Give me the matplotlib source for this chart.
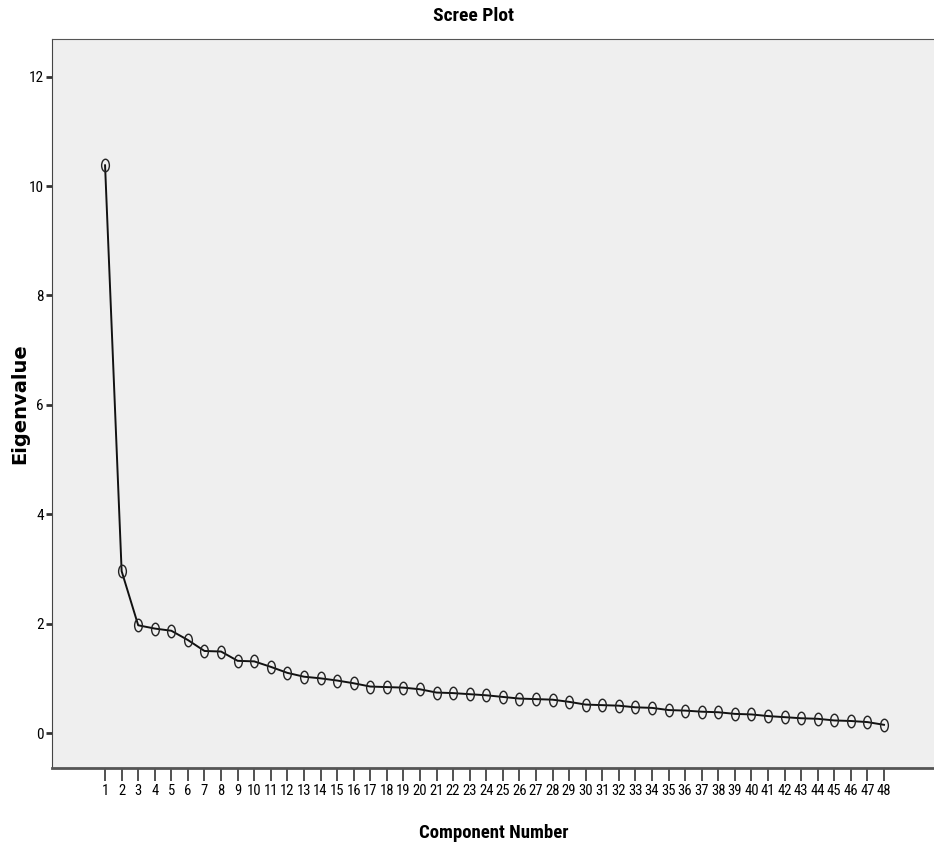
import matplotlib
matplotlib.use("Agg")
import matplotlib.pyplot as plt
from matplotlib.path import Path
from matplotlib.transforms import Affine2D

components = list(range(1, 49))
eigenvalues = [10.38, 2.96, 1.97, 1.91, 1.87, 1.70, 1.50, 1.49, 1.32, 1.31,
               1.21, 1.10, 1.03, 1.00, 0.96, 0.91, 0.85, 0.84, 0.83, 0.80,
               0.74, 0.73, 0.71, 0.69, 0.66, 0.63, 0.62, 0.61, 0.57, 0.52,
               0.51, 0.50, 0.47, 0.46, 0.42, 0.41, 0.39, 0.38, 0.35, 0.34,
               0.31, 0.29, 0.27, 0.26, 0.23, 0.22, 0.20, 0.15]
yticks = [0, 2, 4, 6, 8, 10, 12]

narrow = dict(family=['Roboto Condensed', 'Liberation Sans Narrow', 'DejaVu Sans'],
              stretch='condensed')

# tall open ellipse like the SPSS marker
ellipse = Path.unit_circle().transformed(Affine2D().scale(0.62, 1.0))

fig = plt.figure(figsize=(9.34, 8.51), dpi=100)
ax = fig.add_axes([0.0557, 0.0975, 0.944, 0.8567])
ax.set_facecolor('#efefef')

ax.plot(components, eigenvalues, color='#111111', lw=1.4,
        marker=ellipse, markersize=9, markerfacecolor='none',
        markeredgecolor='#222222', markeredgewidth=1.0)

ax.set_xlim(-2.2, 51)
ax.set_ylim(-0.64, 12.69)
ax.set_xticks(components)
ax.set_xticklabels([str(c) for c in components], fontsize=10.5, **narrow)
ax.set_yticks(yticks)
ax.set_yticklabels([str(v) for v in yticks], fontsize=11, **narrow)
ax.tick_params(axis='x', length=9, width=1.2, color='#333333', pad=2.5)
ax.tick_params(axis='y', length=4, width=2, color='#333333', pad=2)

ax.spines['right'].set_visible(False)
ax.spines['top'].set_color('#555555')
ax.spines['left'].set_color('#444444')
ax.spines['bottom'].set_color('#555555')
ax.spines['bottom'].set_linewidth(2)

fig.text(0.507, 0.981, 'Scree Plot', ha='center', va='center',
         fontsize=14, fontweight='bold', **narrow)
fig.text(0.529, 0.021, 'Component Number', ha='center', va='center',
         fontsize=13.5, fontweight='bold', **narrow)
fig.text(0.021, 0.526, 'Eigenvalue', ha='center', va='center', rotation=90,
         family='DejaVu Sans', fontsize=14, fontweight='bold')

fig.savefig('out.png', dpi=100)
